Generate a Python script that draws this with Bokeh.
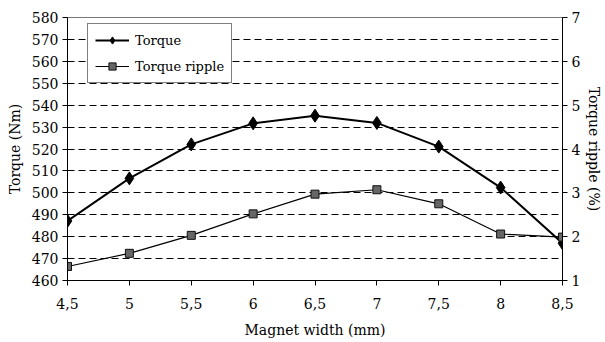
from bokeh.plotting import figure
from bokeh.models import (Range1d, LinearAxis, FixedTicker, Legend, LegendItem)
from bokeh.embed import file_html
from bokeh.resources import INLINE

# ---- data ----
magnet_width = [4.5, 5.0, 5.5, 6.0, 6.5, 7.0, 7.5, 8.0, 8.5]
torque = [487.2, 506.6, 522.1, 531.7, 535.2, 531.9, 521.1, 502.4, 477.0]
torque_ripple = [1.32, 1.62, 2.03, 2.52, 2.97, 3.07, 2.75, 2.06, 1.99]
x_ticks = [4.5, 5.0, 5.5, 6.0, 6.5, 7.0, 7.5, 8.0, 8.5]
x_tick_labels = ["4,5", "5", "5,5", "6", "6,5", "7", "7,5", "8", "8,5"]
left_ticks = [460, 470, 480, 490, 500, 510, 520, 530, 540, 550, 560, 570, 580]
right_ticks = [1, 2, 3, 4, 5, 6, 7]
grid_ticks = [470, 480, 490, 500, 510, 520, 530, 540, 550, 560, 570]

FONT = "DejaVu Serif"

p = figure(width=605, height=342, output_backend="svg", toolbar_location=None,
           x_range=Range1d(4.5, 8.5), y_range=Range1d(460, 580),
           min_border_left=67, min_border_right=43, min_border_top=17,
           min_border_bottom=62)
p.background_fill_color = "white"
p.border_fill_color = "white"
p.outline_line_color = "#777777"
p.outline_line_width = 1

p.extra_y_ranges = {"ripple": Range1d(1, 7)}

# grid
p.xgrid.visible = False
p.ygrid.ticker = FixedTicker(ticks=grid_ticks)
p.ygrid.grid_line_color = "black"
p.ygrid.grid_line_dash = "7 4"
p.ygrid.grid_line_width = 1

def style_axis(ax):
    ax.axis_line_color = "black"
    ax.major_tick_line_color = "black"
    ax.major_tick_out = 5
    ax.major_tick_in = 0
    ax.minor_tick_line_color = None
    ax.major_label_text_font = FONT
    ax.major_label_text_font_size = "14px"
    ax.major_label_text_color = "black"
    ax.axis_label_text_font = FONT
    ax.axis_label_text_font_size = "14px"
    ax.axis_label_text_font_style = "normal"
    ax.axis_label_text_color = "black"

# bottom axis
xa = p.xaxis[0]
style_axis(xa)
xa.ticker = FixedTicker(ticks=x_ticks)
xa.major_label_overrides = {t: l for t, l in zip(x_ticks, x_tick_labels)}
xa.axis_label = "Magnet width (mm)"
xa.major_label_standoff = 12
xa.axis_label_standoff = 10

# left axis
ya = p.yaxis[0]
style_axis(ya)
ya.ticker = FixedTicker(ticks=left_ticks)
ya.axis_label = "Torque (Nm)"
ya.major_label_standoff = 4
ya.axis_label_standoff = 6

# right axis
ra = LinearAxis(y_range_name="ripple")
style_axis(ra)
ra.ticker = FixedTicker(ticks=right_ticks)
ra.axis_label = "Torque ripple (%)"
ra.major_label_standoff = 4
ra.axis_label_standoff = 3
p.add_layout(ra, "right")

# series
l1 = p.line(magnet_width, torque, line_color="black", line_width=2)
m1 = p.scatter(magnet_width, torque, marker="diamond", size=13,
               fill_color="black", line_color="black")
l2 = p.line(magnet_width, torque_ripple, y_range_name="ripple",
            line_color="black", line_width=1.2)
m2 = p.scatter(magnet_width, torque_ripple, y_range_name="ripple",
               marker="square", size=8, fill_color="#666666",
               line_color="#111111", line_width=1)

legend = Legend(items=[LegendItem(label="Torque", renderers=[l1, m1]),
                       LegendItem(label="Torque ripple", renderers=[l2, m2])],
                location=(20, 197))
legend.label_text_font = FONT
legend.label_text_font_size = "13px"
legend.label_text_color = "black"
legend.border_line_color = "black"
legend.border_line_width = 1
legend.background_fill_color = "white"
legend.background_fill_alpha = 1
legend.padding = 7
legend.spacing = 8
legend.glyph_width = 34
legend.glyph_height = 18
legend.label_height = 18
legend.label_standoff = 6
legend.margin = 0
p.add_layout(legend, "center")

open("out.html", "w").write(file_html(p, INLINE))
